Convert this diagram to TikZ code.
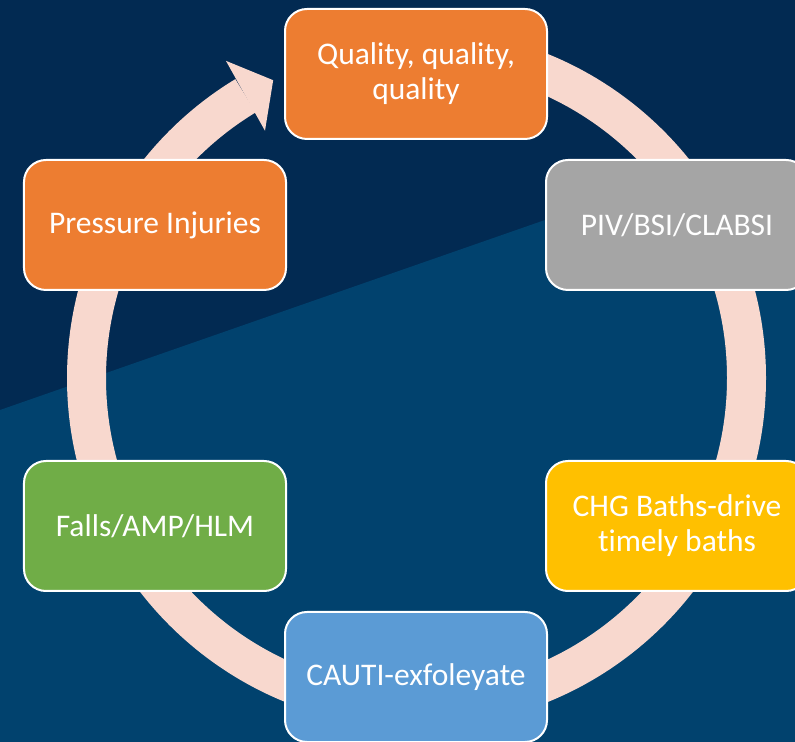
\documentclass[tikz,border=0pt]{standalone}
\usepackage{fontspec}
\setmainfont{Carlito}[Ligatures=NoCommon]
\definecolor{navydark}{HTML}{022A52}
\definecolor{navylight}{HTML}{01426E}
\definecolor{ringpink}{HTML}{F8D8CE}
\definecolor{accorange}{HTML}{ED7D31}
\definecolor{accgray}{HTML}{A5A5A5}
\definecolor{accyellow}{HTML}{FFC000}
\definecolor{accblue}{HTML}{5B9BD5}
\definecolor{accgreen}{HTML}{70AD47}
\begin{document}
\begin{tikzpicture}[x=1bp,y=1bp,
  stage/.style={draw=white, line width=2bp, rounded corners=22bp,
    minimum width=262bp, minimum height=130bp, inner sep=0pt,
    align=center, text=white, font=\fontsize{31.5bp}{35bp}\selectfont}]
  \useasboundingbox (0,0) rectangle (795,742);
  \clip (0,0) rectangle (795,742);
  \fill[navydark] (0,0) rectangle (795,742);
  \fill[navylight] (0,0) -- (0,332) -- (545,522) -- (795,556) -- (795,0) -- cycle;
  % cycle ring, clockwise, ending in a head left of the top stage
  \coordinate (c) at (416.5,364);
  \draw[ringpink, line width=39bp] (c) ++(90:330) arc[start angle=90, end angle=-238.8, radius=330];
  \fill[ringpink, shift={(c)}] (121:370) -- (115.7:330.5) -- (121.5:290) -- cycle;
  \node[stage, fill=accorange] (quality) at (416,668) {Quality, quality,\\quality};
  \node[stage, fill=accgray] (piv) at (677,517) {PIV/BSI/CLABSI};
  \node[stage, fill=accyellow] (chg) at (677,216) {CHG Baths-drive\\timely baths};
  \node[stage, fill=accblue] (cauti) at (416,65) {CAUTI-exfoleyate};
  \node[stage, fill=accgreen] (falls) at (155,216) {Falls/AMP/HLM};
  \node[stage, fill=accorange] (pressure) at (155,517) {Pressure Injuries};
\end{tikzpicture}
\end{document}
